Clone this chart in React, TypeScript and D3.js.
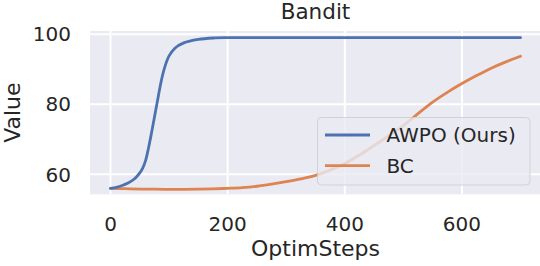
import React from "react";
import * as d3 from "d3";

const steps = [0, 10, 20, 30, 40, 45, 50, 55, 60, 65, 70, 75, 80, 85, 90, 95, 100, 110, 125, 150, 175, 200, 250, 300, 350, 400, 450, 500, 550, 600, 650, 700];
const awpo = [56.0, 56.3, 56.8, 57.5, 58.6, 59.4, 60.4, 61.8, 64.0, 67.6, 71.8, 76.3, 80.8, 85.3, 89.0, 91.8, 93.8, 96.0, 97.5, 98.5, 98.9, 99.0, 99.0, 99.0, 99.0, 99.0, 99.0, 99.0, 99.0, 99.0, 99.0, 99.0];

const bcSteps = [0, 25, 50, 75, 100, 125, 150, 175, 200, 225, 250, 275, 300, 325, 350, 375, 400, 425, 450, 475, 500, 525, 550, 575, 600, 625, 650, 675, 700];
const bc = [56.0, 55.9, 55.8, 55.75, 55.7, 55.7, 55.75, 55.85, 56.0, 56.2, 56.6, 57.2, 57.9, 58.7, 59.7, 61.2, 63.1, 65.5, 68.2, 71.0, 73.9, 77.3, 80.6, 83.4, 85.9, 88.2, 90.3, 92.1, 93.7];

const xTicks = [0, 200, 400, 600];
const yTicks = [60, 80, 100];
const seriesNames = ["AWPO (Ours)", "BC"];
const colors = ["#4C72B0", "#DD8452"];

const W = 540;
const H = 266;
const FONT = "DejaVu Sans, sans-serif";
const TEXT = "#262626";

export default function App() {
  const left = 90;
  const right = 541;
  const top = 31;
  const bottom = 194.3;

  const x = d3.scaleLinear().domain([-35, 735]).range([left, right]);
  const y = d3.scaleLinear().domain([54.3, 100.9]).range([bottom, top]);

  const line = d3
    .line<[number, number]>()
    .x(d => x(d[0]))
    .y(d => y(d[1]))
    .curve(d3.curveCatmullRom.alpha(0.5));

  const awpoPts = steps.map((s, i) => [s, awpo[i]] as [number, number]);
  const bcPts = bcSteps.map((s, i) => [s, bc[i]] as [number, number]);

  return (
    <svg
      width={W}
      height={H}
      style={{ position: "absolute", left: 0, top: 0, background: "#fff" }}
      fontFamily={FONT}
    >
      <rect x={left} y={top} width={right - left} height={bottom - top} fill="#EAEAF2" />
      {xTicks.map(t => (
        <line key={"gx" + t} x1={x(t)} x2={x(t)} y1={top} y2={bottom} stroke="#fff" strokeWidth={2} />
      ))}
      {yTicks.map(t => (
        <line key={"gy" + t} x1={left} x2={right} y1={y(t)} y2={y(t)} stroke="#fff" strokeWidth={2} />
      ))}

      <path d={line(bcPts) || ""} fill="none" stroke={colors[1]} strokeWidth={2.8} strokeLinecap="round" />
      <path d={line(awpoPts) || ""} fill="none" stroke={colors[0]} strokeWidth={2.8} strokeLinecap="round" />

      {xTicks.map(t => (
        <text key={"tx" + t} x={x(t)} y={231} textAnchor="middle" fontSize={20} fill={TEXT}>
          {t}
        </text>
      ))}
      {yTicks.map(t => (
        <text key={"ty" + t} x={71} y={y(t)} dy="0.36em" textAnchor="end" fontSize={20} fill={TEXT}>
          {t}
        </text>
      ))}

      <text x={(left + right) / 2} y={256} textAnchor="middle" fontSize={22} fill={TEXT}>
        OptimSteps
      </text>
      <text
        transform={`translate(20,${(top + bottom) / 2}) rotate(-90)`}
        textAnchor="middle"
        fontSize={22}
        fill={TEXT}
      >
        Value
      </text>
      <text x={(left + right) / 2} y={19} textAnchor="middle" fontSize={21.5} fill={TEXT}>
        Bandit
      </text>

      <g>
        <rect
          x={317.5}
          y={117.5}
          width={212.5}
          height={67.5}
          rx={4}
          fill="rgba(234,234,242,0.8)"
          stroke="rgba(204,204,204,0.8)"
          strokeWidth={1}
        />
        {seriesNames.map((n, i) => (
          <g key={n}>
            <line
              x1={325}
              x2={370}
              y1={135 + i * 30.7}
              y2={135 + i * 30.7}
              stroke={colors[i]}
              strokeWidth={2.8}
            />
            <text x={386.5} y={135 + i * 30.7} dy="0.36em" fontSize={20} fill={TEXT}>
              {n}
            </text>
          </g>
        ))}
      </g>
    </svg>
  );
}
